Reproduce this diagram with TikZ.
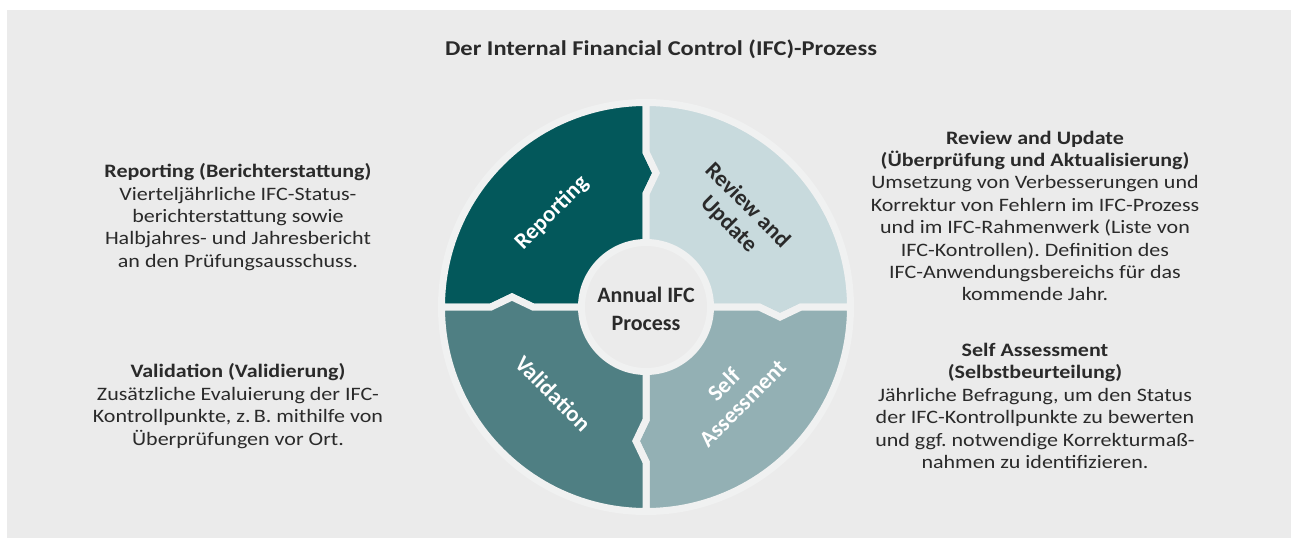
\documentclass[tikz,border=0pt]{standalone}
\usepackage{fontspec}
\setmainfont{Carlito}
\newfontfamily\widefont{Carlito}[FakeStretch=1.16]
\frenchspacing

\definecolor{bgcol}{HTML}{EBEBEB}
\definecolor{gapcol}{HTML}{F0F1F1}
\definecolor{repcol}{HTML}{03585B}
\definecolor{revcol}{HTML}{C8DADD}
\definecolor{selfcol}{HTML}{93B0B4}
\definecolor{valcol}{HTML}{4F7F83}
\definecolor{txtcol}{HTML}{2A2A2A}

\tikzset{
  headline/.style={font=\widefont\fontsize{12}{14}\selectfont\bfseries, text=txtcol},
  infotext/.style={align=center, text=txtcol, font=\widefont\fontsize{10.8}{12.75}\selectfont},
  hubtext/.style={align=center, text=txtcol, font=\fontsize{12.5}{16}\selectfont\bfseries},
  seglabel/.style={align=center, inner sep=0pt, font=\fontsize{13}{15}\selectfont\bfseries},
}

\begin{document}
\begin{tikzpicture}[x=0.02cm, y=0.02cm]
        %page and grey panel
        \fill[white] (-646,-231) rectangle (645,307);
        \fill[bgcol] (-639,-231) rectangle (645,297);
        \useasboundingbox (-646,-231) rectangle (645,307);

        %ring radii, chevron half-height and tip
        \def\ri{64.5}
        \def\ro{204.5}
        \def\rm{134}
        \def\h{21}
        \def\dt{4.27}
        \def\rt{134.4}

        %four quarters, each one pointing clockwise into the next
        \foreach \a/\col in {90/repcol, 0/revcol, -90/selfcol, 180/valcol} {
          \filldraw[fill=\col, draw=gapcol, line width=0.14cm]
                (\a:\ri) -- (\a:\rm-\h) -- ({\a-\dt}:\rt) -- (\a:\rm+\h) -- (\a:\ro)
                arc (\a:\a+90:\ro)
                -- ({\a+90}:\rm+\h) -- ({\a+90-\dt}:\rt) -- ({\a+90}:\rm-\h)
                -- ({\a+90}:\ri)
                arc (\a+90:\a:\ri) -- cycle;
        }

        %labels on the ring
        \node[seglabel, text=white, rotate=45] (reporting) at (135:133) {Reporting};
        \node[seglabel, text=txtcol, rotate=-45] (review) at (45:130) {Review and\\Update};
        \node[seglabel, text=white, rotate=45] (selfassess) at (-45:123) {Self\\Assessment};
        \node[seglabel, text=white, rotate=-45] (validation) at (-137:127) {Validation};
        \node[hubtext] (hub) at (0,-2) {Annual IFC\\Process};

        %heading
        \node[headline] (title) at (15,258) {Der Internal Financial Control (IFC)-Prozess};

        %descriptions
        \node[infotext] (reportinfo) at (-408,90)
              {\textbf{Reporting (Berichterstattung)}\\
               Vierteljährliche IFC-Status-\\
               berichterstattung sowie\\
               Halbjahres- und Jahresbericht\\
               an den Prüfungsausschuss.};
        \node[infotext] (valinfo) at (-408,-99)
              {\textbf{Validation (Validierung)}\\
               Zusätzliche Evaluierung der IFC-\\
               Kontrollpunkte, z.\,B. mithilfe von\\
               Überprüfungen vor Ort.};
        \node[infotext] (reviewinfo) at (389,91)
              {\textbf{Review and Update}\\
               \textbf{(Überprüfung und Aktualisierung)}\\
               Umsetzung von Verbesserungen und\\
               Korrektur von Fehlern im IFC-Prozess\\
               und im IFC-Rahmenwerk (Liste von\\
               IFC-Kontrollen). Definition des\\
               IFC-Anwendungsbereichs für das\\
               kommende Jahr.};
        \node[infotext] (selfinfo) at (389,-99)
              {\textbf{Self Assessment}\\
               \textbf{(Selbstbeurteilung)}\\
               Jährliche Befragung, um den Status\\
               der IFC-Kontrollpunkte zu bewerten\\
               und ggf. notwendige Korrekturmaß-\\
               nahmen zu identifizieren.};
\end{tikzpicture}
\end{document}
